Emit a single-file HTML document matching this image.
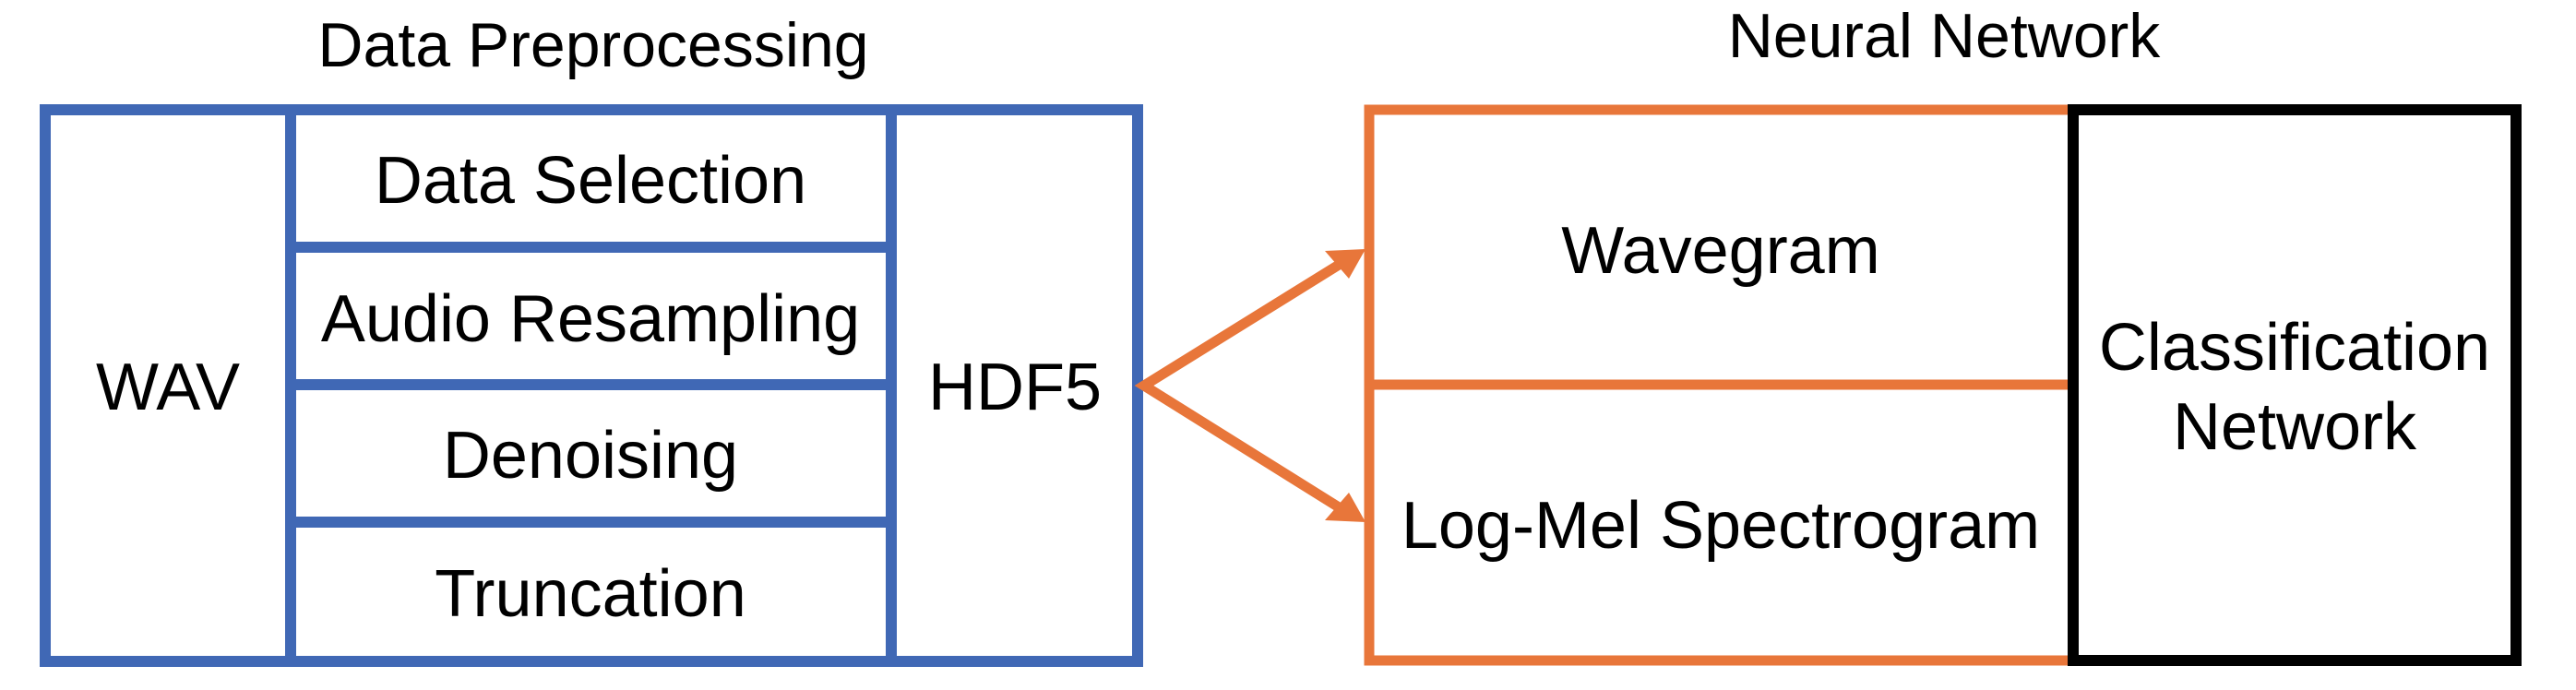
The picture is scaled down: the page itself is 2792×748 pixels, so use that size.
<!DOCTYPE html>
<html><head><meta charset="utf-8"><style>
html,body{margin:0;padding:0;background:#fff;}
svg{display:block;}
text{font-family:"Liberation Sans",sans-serif;fill:#000;text-anchor:middle;}
</style></head><body>
<svg width="2792" height="748" viewBox="0 0 2792 748" xmlns="http://www.w3.org/2000/svg">
<text x="643" y="72" font-size="68">Data Preprocessing</text>
<text x="2107" y="62" font-size="68">Neural Network</text>
<g fill="none" stroke="#4068B5" stroke-width="12">
<rect x="49" y="119" width="1184" height="598"/>
<line x1="315" y1="119" x2="315" y2="717"/>
<line x1="966" y1="119" x2="966" y2="717"/>
<line x1="315" y1="268" x2="966" y2="268"/>
<line x1="315" y1="417" x2="966" y2="417"/>
<line x1="315" y1="566" x2="966" y2="566"/>
</g>
<g font-size="72">
<text x="640" y="220">Data Selection</text>
<text x="640" y="370">Audio Resampling</text>
<text x="640" y="518">Denoising</text>
<text x="640" y="668">Truncation</text>
<text x="182" y="444">WAV</text>
<text x="1100" y="444">HDF5</text>
</g>
<g stroke="#E8763A" stroke-width="11" fill="none" stroke-linejoin="miter">
<path d="M2247,119 H1484 V716 H2247"/>
<line x1="1484" y1="417" x2="2247" y2="417"/>
<polyline points="1456,284 1240,418 1456,553"/>
</g>
<g fill="#E8763A">
<polygon points="1480,270 1436,272 1462,302"/>
<polygon points="1480,566 1436,564 1462,534"/>
</g>
<rect x="2247" y="119" width="480" height="597" fill="none" stroke="#000" stroke-width="12"/>
<g font-size="72">
<text x="1865" y="296">Wavegram</text>
<text x="1865" y="594">Log-Mel Spectrogram</text>
<text x="2487" y="401">Classification</text>
<text x="2487" y="487">Network</text>
</g>
</svg>
</body></html>
